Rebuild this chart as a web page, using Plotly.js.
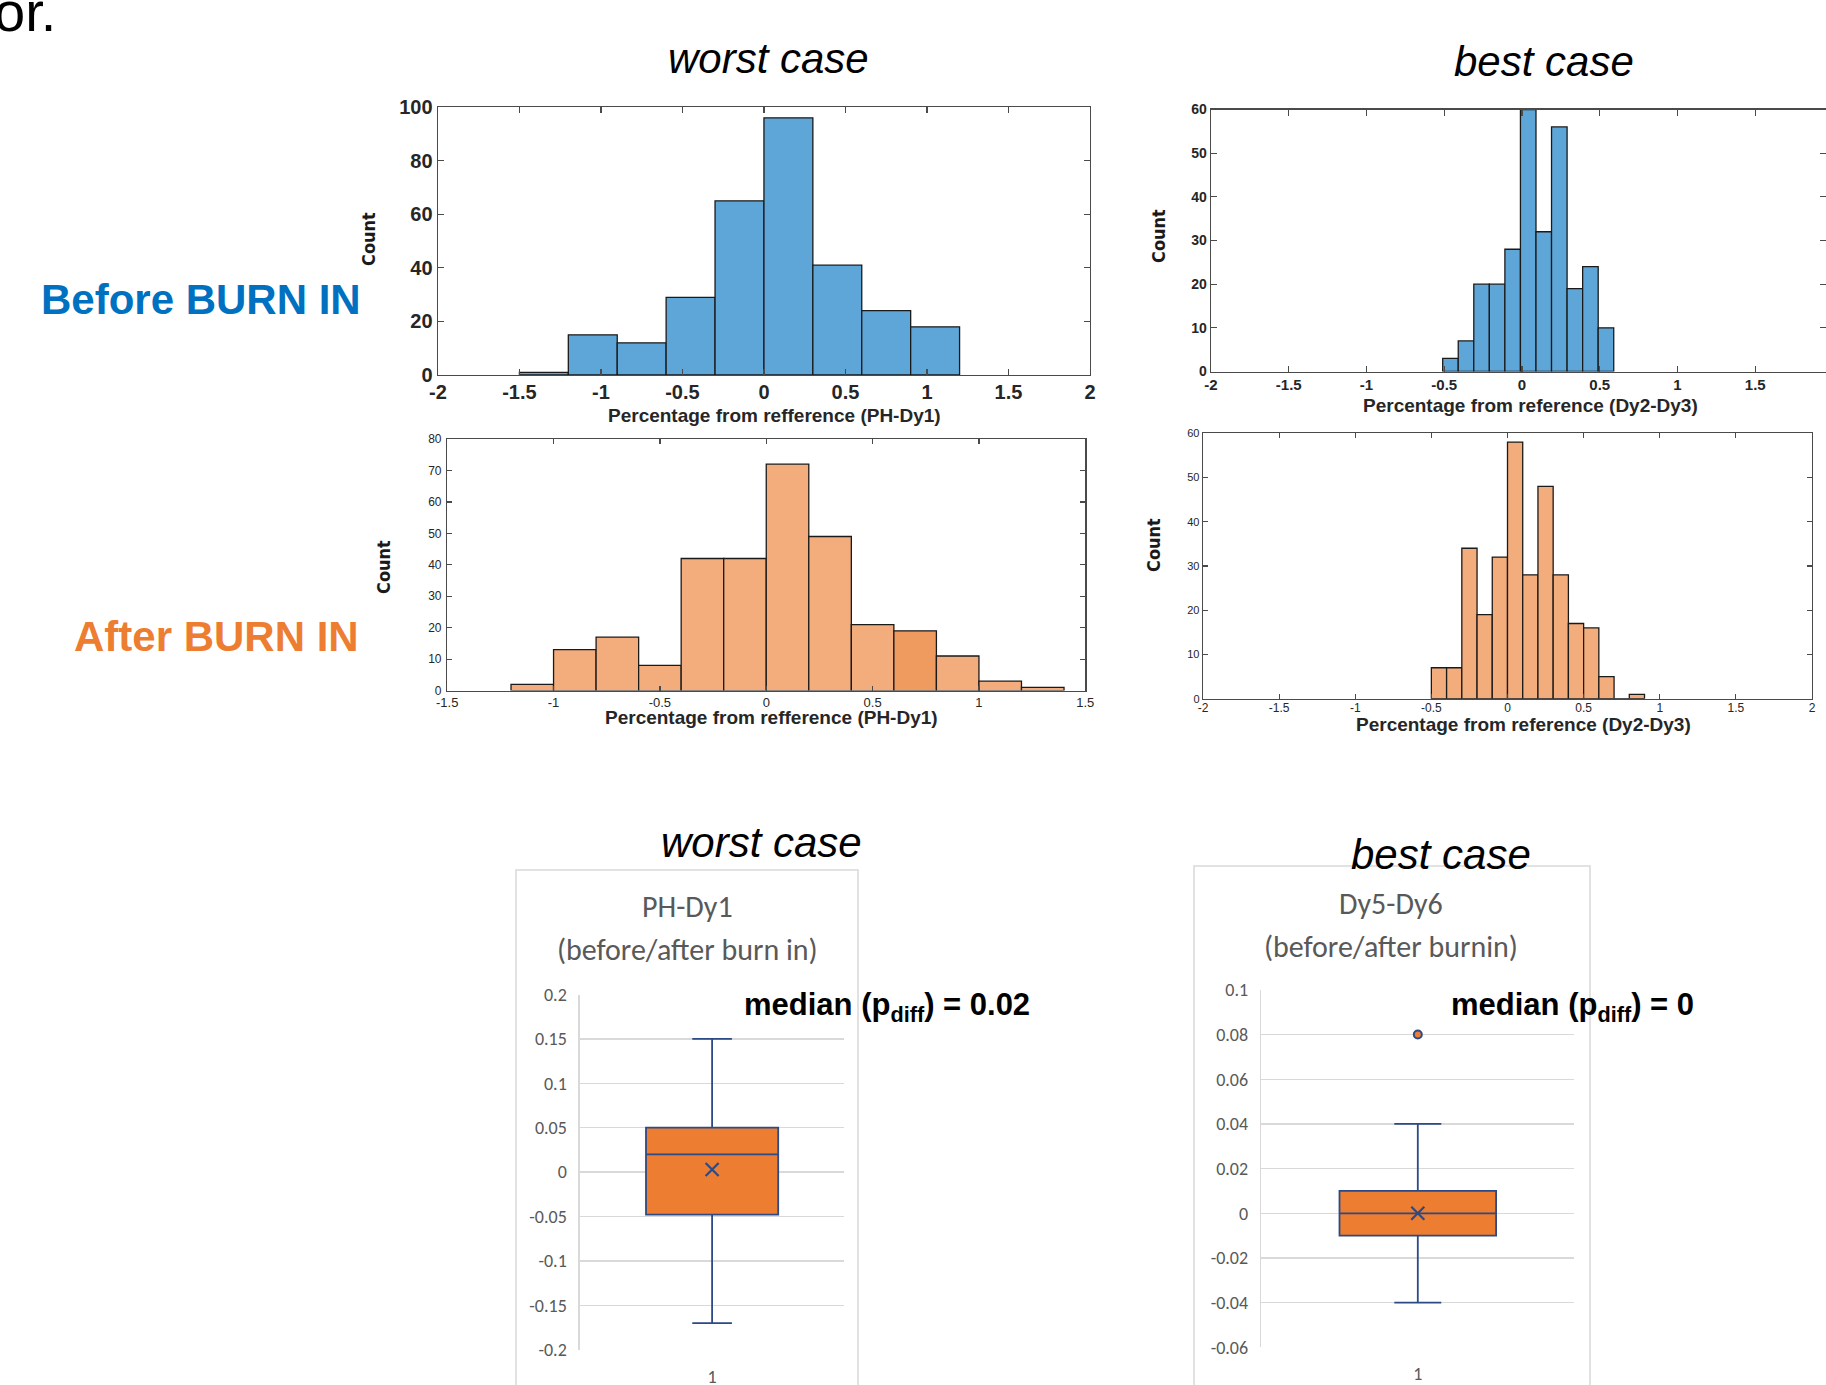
<!DOCTYPE html>
<html>
<head>
<meta charset="utf-8">
<script src="https://cdn.plot.ly/plotly-3.0.1.min.js"></script>
<style>
html,body{margin:0;padding:0;background:#ffffff;}
#chart{width:1826px;height:1385px;}
</style>
</head>
<body>
<div id="chart"></div>
<script>
// ---------------- DATA ----------------
// Worst case, before burn-in (PH-Dy1)
const wcBeforeBinStart = [-1.5, -1.2, -0.9, -0.6, -0.3, 0, 0.3, 0.6, 0.9];
const wcBeforeCounts   = [1, 15, 12, 29, 65, 96, 41, 24, 18];
const wcBeforeBinWidth = 0.3;
// Best case, before burn-in (Dy2-Dy3)
const bcBeforeBinStart = [-0.51, -0.41, -0.31, -0.21, -0.11, -0.01, 0.09, 0.19, 0.29, 0.39, 0.49];
const bcBeforeCounts   = [3, 7, 20, 20, 28, 60, 32, 56, 19, 24, 10];
const bcBeforeBinWidth = 0.1;
// Worst case, after burn-in (PH-Dy1)
const wcAfterBinStart = [-1.2, -1.0, -0.8, -0.6, -0.4, -0.2, 0, 0.2, 0.4, 0.6, 0.8, 1.0, 1.2];
const wcAfterCounts   = [2, 13, 17, 8, 42, 42, 72, 49, 21, 19, 11, 3, 1];
const wcAfterBinWidth = 0.2;
// Best case, after burn-in (Dy2-Dy3)
const bcAfterBinStart = [-0.5, -0.4, -0.3, -0.2, -0.1, 0, 0.1, 0.2, 0.3, 0.4, 0.5, 0.6, 0.7, 0.8];
const bcAfterCounts   = [7, 7, 34, 19, 32, 58, 28, 48, 28, 17, 16, 5, 0, 1];
const bcAfterBinWidth = 0.1;

// Box plots: difference before/after burn-in
const boxCategory = [1];
const boxCategoryLabels = ['1'];
const wcBoxLowerFence = [-0.17];
const wcBoxQ1         = [-0.048];
const wcBoxMedian     = [0.02];
const wcBoxQ3         = [0.05];
const wcBoxUpperFence = [0.15];
const wcBoxMean       = [0.003];
const bcBoxLowerFence = [-0.04];
const bcBoxQ1         = [-0.01];
const bcBoxMedian     = [0];
const bcBoxQ3         = [0.01];
const bcBoxUpperFence = [0.04];
const bcBoxMean       = [0];
const bcBoxOutliers   = [0.08];

// Tick values
const ticksXWide   = [-2, -1.5, -1, -0.5, 0, 0.5, 1, 1.5, 2];
const ticksXNarrow = [-1.5, -1, -0.5, 0, 0.5, 1, 1.5];
const ticksYWcBefore = [0, 20, 40, 60, 80, 100];
const ticksYBc       = [0, 10, 20, 30, 40, 50, 60];
const ticksYWcAfter  = [0, 10, 20, 30, 40, 50, 60, 70, 80];
const ticksYWcBox    = [-0.2, -0.15, -0.1, -0.05, 0, 0.05, 0.1, 0.15, 0.2];
const ticksYBcBox    = [-0.06, -0.04, -0.02, 0, 0.02, 0.04, 0.06, 0.08, 0.1];

// ---------------- STYLE / LAYOUT HELPERS ----------------
const W = 1826, H = 1385;
const px = x => x / W;
const py = y => 1 - y / H;
const dom = (a, b) => [Math.max(0, a / W), Math.min(1, b / W)];
const domY = (top, bottom) => [1 - bottom / H, 1 - top / H];
const lbl = arr => arr.map(v => String(v));

const ARIAL = 'Liberation Sans, Arial, Helvetica, sans-serif';
const NARROW = 'Liberation Sans Narrow, Arial Narrow, DejaVu Sans Condensed, sans-serif';
const XL = 'Carlito, Calibri, Noto Sans, sans-serif';
const BLUE = '#5FA6D8';
const ORANGE_L = '#F3AC7B';
const ORANGE_D = '#EF9A5E';
const NAVY = '#2B4A86';
const XLORANGE = '#ED7D31';

function histAxis(extra) {
  return Object.assign({
    showline: true, mirror: 'allticks', ticks: 'inside', ticklen: 6, tickwidth: 1.2,
    tickcolor: '#4a4a4a', linecolor: '#4a4a4a', linewidth: 1.3,
    showgrid: false, zeroline: false, fixedrange: true
  }, extra);
}

function barTrace(starts, counts, width, color, xa, ya) {
  return {
    type: 'bar', x: starts, y: counts, width: width, offset: 0,
    xaxis: xa, yaxis: ya,
    marker: {color: color, line: {color: '#1a1a1a', width: 1.3}},
    hoverinfo: 'skip'
  };
}

const afterColors = wcAfterCounts.map((c, i) => i === 9 ? ORANGE_D : ORANGE_L);

const meanMarker = {symbol: 'x-thin-open', size: 13, color: NAVY, line: {color: NAVY, width: 2.2}};

const traces = [
  barTrace(wcBeforeBinStart, wcBeforeCounts, wcBeforeBinWidth, BLUE, 'x', 'y'),
  barTrace(bcBeforeBinStart, bcBeforeCounts, bcBeforeBinWidth, BLUE, 'x2', 'y2'),
  barTrace(wcAfterBinStart, wcAfterCounts, wcAfterBinWidth, afterColors, 'x3', 'y3'),
  barTrace(bcAfterBinStart, bcAfterCounts, bcAfterBinWidth, ORANGE_L, 'x4', 'y4'),
  {
    type: 'box', x: boxCategory, q1: wcBoxQ1, median: wcBoxMedian, q3: wcBoxQ3,
    lowerfence: wcBoxLowerFence, upperfence: wcBoxUpperFence,
    xaxis: 'x5', yaxis: 'y5', width: 0.5, whiskerwidth: 0.3, boxpoints: false,
    fillcolor: XLORANGE, line: {color: NAVY, width: 1.8}, hoverinfo: 'skip'
  },
  {
    type: 'scatter', mode: 'markers', x: boxCategory, y: wcBoxMean, xaxis: 'x5', yaxis: 'y5',
    marker: meanMarker, hoverinfo: 'skip'
  },
  {
    type: 'box', x: boxCategory, q1: bcBoxQ1, median: bcBoxMedian, q3: bcBoxQ3,
    lowerfence: bcBoxLowerFence, upperfence: bcBoxUpperFence,
    xaxis: 'x6', yaxis: 'y6', width: 0.5, whiskerwidth: 0.3, boxpoints: false,
    fillcolor: XLORANGE, line: {color: NAVY, width: 1.8}, hoverinfo: 'skip'
  },
  {
    type: 'scatter', mode: 'markers', x: boxCategory, y: bcBoxMean, xaxis: 'x6', yaxis: 'y6',
    marker: meanMarker, hoverinfo: 'skip'
  },
  {
    type: 'scatter', mode: 'markers', x: bcBoxOutliers.map(() => boxCategory[0]), y: bcBoxOutliers,
    xaxis: 'x6', yaxis: 'y6',
    marker: {symbol: 'circle', size: 8, color: XLORANGE, line: {color: NAVY, width: 2}}, hoverinfo: 'skip'
  }
];

function ann(text, x, y, font, extra) {
  return Object.assign({
    text: text, x: px(x), y: py(y), xref: 'paper', yref: 'paper',
    showarrow: false, xanchor: 'center', yanchor: 'middle', font: font
  }, extra || {});
}

const countFont = {family: NARROW, size: 18, color: '#1a1a1a'};
const xTitleFont = {family: ARIAL, size: 19, color: '#262626'};
const caseFont = {family: ARIAL, size: 42, color: '#000000'};
const xlTitleFont = {family: XL, size: 30, color: '#595959'};
const medFont = {family: ARIAL, size: 31, color: '#000000'};

const annotations = [
  ann('or.', 58, 11, {family: ARIAL, size: 56, color: '#000000'}, {xanchor: 'right'}),
  ann('<i>worst case</i>', 768.6, 58, caseFont),
  ann('<i>best case</i>', 1544, 62, caseFont),
  ann('<b>Before BURN IN</b>', 201, 300, {family: ARIAL, size: 42, color: '#0070C0'}),
  ann('<b>After BURN IN</b>', 216, 636, {family: ARIAL, size: 42, color: '#ED7D31'}),
  ann('<b>Count</b>', 368, 239, countFont, {textangle: -90}),
  ann('<b>Count</b>', 1159, 236, countFont, {textangle: -90}),
  ann('<b>Count</b>', 383, 567, countFont, {textangle: -90}),
  ann('<b>Count</b>', 1153, 545, countFont, {textangle: -90}),
  ann('<b>Percentage from refference (PH-Dy1)</b>', 774.4, 415, xTitleFont),
  ann('<b>Percentage from reference (Dy2-Dy3)</b>', 1530.8, 406, xTitleFont),
  ann('<b>Percentage from refference (PH-Dy1)</b>', 771, 717, xTitleFont),
  ann('<b>Percentage from reference (Dy2-Dy3)</b>', 1523, 724, xTitleFont),
  ann('<i>worst case</i>', 761, 842, caseFont),
  ann('<i>best case</i>', 1441, 854, caseFont),
  ann('PH-Dy1', 687, 906, xlTitleFont),
  ann('(before/after burn in)', 687, 949, xlTitleFont),
  ann('Dy5-Dy6', 1390.5, 904, xlTitleFont),
  ann('(before/after burnin)', 1390.5, 946, xlTitleFont),
  ann('<b>median (p<sub>diff</sub>) = 0.02</b>', 742, 1007, medFont, {xanchor: 'left'}),
  ann('<b>median (p<sub>diff</sub>) = 0</b>', 1449, 1007, medFont, {xanchor: 'left'})
];

const shapes = [
  {type: 'rect', xref: 'paper', yref: 'paper', x0: px(516), x1: px(858), y0: py(1395), y1: py(870),
   line: {color: '#D9D9D9', width: 1.5}, fillcolor: 'rgba(0,0,0,0)', layer: 'below'},
  {type: 'rect', xref: 'paper', yref: 'paper', x0: px(1194), x1: px(1590), y0: py(1395), y1: py(866),
   line: {color: '#D9D9D9', width: 1.5}, fillcolor: 'rgba(0,0,0,0)', layer: 'below'}
];

const boldTick = s => ({family: ARIAL, size: s, color: '#262626', weight: 'bold'});
const normTick = s => ({family: ARIAL, size: s, color: '#262626'});
const xlTick = {family: XL, size: 18, color: '#595959'};

const layout = {
  width: W, height: H,
  margin: {l: 0, r: 0, t: 0, b: 0, pad: 0},
  paper_bgcolor: '#ffffff', plot_bgcolor: 'rgba(0,0,0,0)',
  showlegend: false, hovermode: false,
  // Hist 1
  xaxis: histAxis({domain: dom(437.9, 1090), anchor: 'y', range: [-2, 2],
    tickvals: ticksXWide, ticktext: lbl(ticksXWide), tickfont: boldTick(20), ticklabelstandoff: -1}),
  yaxis: histAxis({domain: domY(107.1, 375), anchor: 'x', range: [0, 100],
    tickvals: ticksYWcBefore, ticktext: lbl(ticksYWcBefore), tickfont: boldTick(20)}),
  // Hist 2
  xaxis2: histAxis({domain: dom(1211, 1826), anchor: 'y2', range: [-2, 1.955],
    tickvals: ticksXWide, ticktext: lbl(ticksXWide), tickfont: boldTick(15), ticklabelstandoff: -1}),
  yaxis2: histAxis({domain: domY(109.5, 371.5), anchor: 'x2', range: [0, 60],
    tickvals: ticksYBc, ticktext: lbl(ticksYBc), tickfont: boldTick(14)}),
  // Hist 3
  xaxis3: histAxis({domain: dom(447.2, 1085.3), anchor: 'y3', range: [-1.5, 1.5],
    tickvals: ticksXNarrow, ticktext: lbl(ticksXNarrow), tickfont: normTick(13), ticklen: 5,
    ticklabelstandoff: -1}),
  yaxis3: histAxis({domain: domY(439, 690.6), anchor: 'x3', range: [0, 80],
    tickvals: ticksYWcAfter, ticktext: lbl(ticksYWcAfter), tickfont: normTick(12), ticklen: 5,
    ticklabelstandoff: 2}),
  // Hist 4
  xaxis4: histAxis({domain: dom(1203, 1812), anchor: 'y4', range: [-2, 2],
    tickvals: ticksXWide, ticktext: lbl(ticksXWide), tickfont: normTick(12), ticklen: 5,
    ticklabelstandoff: -2}),
  yaxis4: histAxis({domain: domY(433.2, 698.7), anchor: 'x4', range: [0, 60],
    tickvals: ticksYBc, ticktext: lbl(ticksYBc), tickfont: normTick(11), ticklen: 5}),
  // Box 1
  xaxis5: {domain: dom(579.9, 844.3), anchor: 'y5', range: [0.5, 1.5],
    tickvals: boxCategory, ticktext: boxCategoryLabels, showgrid: false, zeroline: false,
    showline: false, ticks: '', tickfont: xlTick, ticklabelstandoff: 14, fixedrange: true},
  yaxis5: {domain: domY(994.5, 1349.7), anchor: 'x5', range: [-0.2, 0.2],
    tickvals: ticksYWcBox, ticktext: lbl(ticksYWcBox), showgrid: true, gridcolor: '#D9D9D9',
    gridwidth: 1.5, zeroline: false, showline: true, linecolor: '#D9D9D9', linewidth: 1.5,
    ticks: '', tickfont: xlTick, ticklabelstandoff: 8, fixedrange: true},
  // Box 2
  xaxis6: {domain: dom(1261.2, 1574.4), anchor: 'y6', range: [0.5, 1.5],
    tickvals: boxCategory, ticktext: boxCategoryLabels, showgrid: false, zeroline: false,
    showline: false, ticks: '', tickfont: xlTick, ticklabelstandoff: 14, fixedrange: true},
  yaxis6: {domain: domY(989.9, 1347.3), anchor: 'x6', range: [-0.06, 0.1],
    tickvals: ticksYBcBox, ticktext: lbl(ticksYBcBox), showgrid: true, gridcolor: '#D9D9D9',
    gridwidth: 1.5, zeroline: false, showline: true, linecolor: '#D9D9D9', linewidth: 1.5,
    ticks: '', tickfont: xlTick, ticklabelstandoff: 8, fixedrange: true},
  annotations: annotations,
  shapes: shapes
};

Plotly.newPlot('chart', traces, layout, {staticPlot: true, displayModeBar: false});
</script>
</body>
</html>
